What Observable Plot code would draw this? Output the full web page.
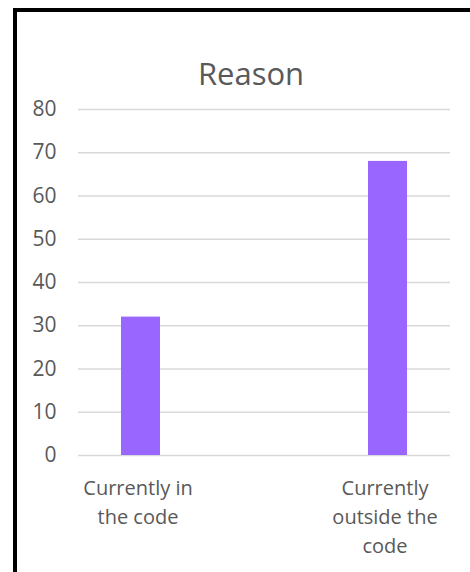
<!DOCTYPE html>
<html>
<head>
<meta charset="utf-8">
<script src="https://cdn.jsdelivr.net/npm/d3@7"></script>
<script src="https://cdn.jsdelivr.net/npm/@observablehq/plot@0.6"></script>
<style>
  html, body { margin: 0; padding: 0; background: #fff; }
  #wrap { position: relative; width: 470px; height: 572px; overflow: hidden; }
  #frame { position: absolute; left: 13px; top: 8px; width: 600px; height: 700px;
           border-left: 4px solid #000; border-top: 4px solid #000; box-sizing: border-box; }
  #title { position: absolute; left: 0; top: 53px; width: 502px; text-align: center;
           font-family: "Open Sans", sans-serif; font-size: 31px; color: #595959; line-height: 40px; }
  #chart { position: absolute; left: 0; top: 0; }
</style>
</head>
<body>
<div id="wrap">
  <div id="frame"></div>
  <div id="title">Reason</div>
  <div id="chart"></div>
</div>
<script>
const categories = ["Currently in the code", "Currently outside the code"];
const labels = ["Currently in\nthe code", "Currently\noutside the\ncode"];
const values = [32, 68];
const yTicks = [0, 10, 20, 30, 40, 50, 60, 70, 80];

const data = categories.map((c, i) => ({category: c, value: values[i]}));
const labelOf = new Map(categories.map((c, i) => [c, labels[i]]));

const chart = Plot.plot({
  width: 470,
  height: 572,
  marginLeft: 78,
  marginRight: 20,
  marginTop: 109,
  marginBottom: 117,
  style: {fontFamily: "Open Sans, sans-serif", fontSize: "20px", color: "#595959", background: "transparent"},
  x: {domain: categories, paddingInner: 0.842, paddingOuter: 0.174, align: 0.5, label: null},
  y: {domain: [0, 80], label: null},
  marks: [
    Plot.ruleY(yTicks, {stroke: "#d9d9d9", strokeWidth: 1.4}),
    Plot.barY(data, {x: "category", y: "value", fill: "#9966ff"}),
    Plot.axisY({ticks: yTicks, tickSize: 0, tickPadding: 22, label: null, fontSize: 21}),
    Plot.axisX({tickSize: 0, tickPadding: 19, dx: -3, label: null, fontSize: 20, lineHeight: 1.45,
                tickFormat: d => labelOf.get(d)})
  ]
});
document.getElementById("chart").appendChild(chart);
</script>
</body>
</html>
